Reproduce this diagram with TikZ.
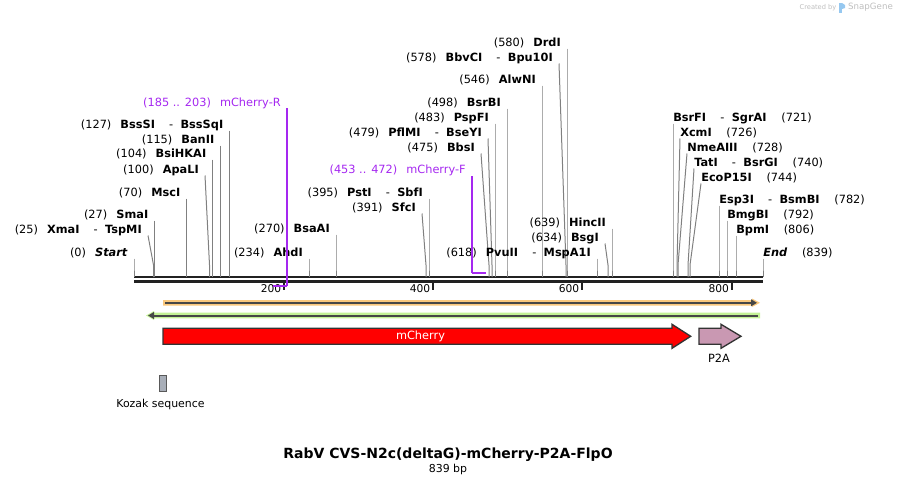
\documentclass[tikz,border=0pt]{standalone}
\usepackage{fontspec}
\setmainfont{DejaVu Sans}[ItalicFont={DejaVu Sans Oblique},BoldFont={DejaVu Sans Bold},BoldItalicFont={DejaVu Sans Bold Oblique}]
\usetikzlibrary{arrows.meta, calc}

\definecolor{cutgray}{RGB}{128,128,128}
\definecolor{primerpurple}{RGB}{165,40,240}
\definecolor{bandorange}{RGB}{250,200,125}
\definecolor{bandgreen}{RGB}{196,242,150}
\definecolor{ptwoa}{RGB}{201,152,178}
\definecolor{kozakgray}{RGB}{168,174,184}
\definecolor{markgray}{RGB}{190,190,190}
\definecolor{markblue}{RGB}{150,200,240}

% rótulos de sítios de corte
\newcommand{\lcut}[2]{(#1)\hspace{0.8em}\textbf{#2}}
\newcommand{\rcut}[2]{\textbf{#2}\hspace{1.3em}(#1)}
\newcommand{\altsep}{\hspace{1.25em}\textmd{-}\hspace{0.65em}}

\begin{document}
\begin{tikzpicture}[x=0.75pt, y=-0.75pt]

  % --- CONFIGURAÇÕES GERAIS ---
  \useasboundingbox (0,0) rectangle (897,486);
  \def\ytop{277}   % linha superior da sequência
  \def\ybend{265}  % dobra das linhas de corte

  \tikzstyle{enz}=[inner sep=0pt, font=\fontsize{8.5}{10}\selectfont]
  \tikzstyle{cut}=[draw=cutgray, line width=0.75pt]
  \tikzstyle{backbone}=[draw=black!87, line width=1.95pt]
  \tikzstyle{scaletick}=[draw=black!87, line width=1.4pt]
  \tikzstyle{feat}=[draw=black!80, line width=1pt]
  \tikzstyle{featline}=[draw=black!72, line width=1.5pt, -{Triangle[length=4.5pt,width=5pt]}]

  % --- SEQUÊNCIA (linha dupla) ---
  \coordinate (b0) at (134,\ytop);
  \coordinate (b1) at (763,\ytop);
  \coordinate (c0) at (134,281.6);
  \coordinate (c1) at (763,281.6);
  \draw[backbone] (b0) -- (b1);
  \draw[backbone] (c0) -- (c1);

  % Marcas da escala
  \foreach \v/\x in {200/284, 400/433, 600/582, 800/731.7} {
    \coordinate (m\v) at (\x,283);
    \coordinate (n\v) at (\x,290);
    \draw[scaletick] (m\v) -- (n\v);
    \node[inner sep=0pt, anchor=base east, font=\fontsize{8}{9}\selectfont] (e\v) at ({\x-2.5},292.5) {\v};
  }

  % --- SÍTIOS DE CORTE (rótulo à esquerda) ---
  \foreach \nm/\sx/\tx/\cy/\txt in {
      start/134/134/252/{\lcut{0}{\textit{Start}}},
      xmai/153.5/148/229/{\lcut{25}{XmaI\altsep TspMI}},
      smai/154.5/154.5/214/{\lcut{27}{SmaI}},
      msci/186.5/186.5/192/{\lcut{70}{MscI}},
      apali/209.5/205/169/{\lcut{100}{ApaLI}},
      bsihkai/212.5/212.5/153/{\lcut{104}{BsiHKAI}},
      banii/220.5/220.5/139/{\lcut{115}{BanII}},
      bsssi/229.5/229.5/124/{\lcut{127}{BssSI\altsep BssSqI}},
      ahdi/309/309/252/{\lcut{234}{AhdI}},
      bsaai/336/336/228/{\lcut{270}{BsaAI}},
      sfci/426/422/207/{\lcut{391}{SfcI}},
      psti/429/429/192/{\lcut{395}{PstI\altsep SbfI}},
      bbsi/489/481/147/{\lcut{475}{BbsI}},
      pflmi/492/488/132/{\lcut{479}{PflMI\altsep BseYI}},
      pspfi/495/495/117/{\lcut{483}{PspFI}},
      bsrbi/507/507/102/{\lcut{498}{BsrBI}},
      alwni/542/542/79/{\lcut{546}{AlwNI}},
      bbvci/566/559/57/{\lcut{578}{BbvCI\altsep Bpu10I}},
      drdi/567/567/42/{\lcut{580}{DrdI}},
      pvuii/597/597/252/{\lcut{618}{PvuII\altsep MspA1I}},
      bsgi/608/605/237/{\lcut{634}{BsgI}},
      hincii/612/612/222/{\lcut{639}{HincII}}} {
    \coordinate (s\nm) at (\sx,\ytop);
    \coordinate (k\nm) at (\sx,\ybend);
    \coordinate (t\nm) at (\tx,{\cy+6.5});
    \node[enz, anchor=base east] (l\nm) at ({\tx-6},{\cy+4}) {\txt};
    \draw[cut] (t\nm) -- (k\nm) -- (s\nm);
  }

  % --- SÍTIOS DE CORTE (rótulo à direita) ---
  \foreach \nm/\sx/\tx/\cy/\txt in {
      bsrfi/673/673/117/{\rcut{721}{BsrFI\altsep SgrAI}},
      xcmi/677/680/132/{\rcut{726}{XcmI}},
      nmeaiii/678/687/147/{\rcut{728}{NmeAIII}},
      tati/688/694/162/{\rcut{740}{TatI\altsep BsrGI}},
      ecop/690/701/177/{\rcut{744}{EcoP15I}},
      esp3i/719/719/199/{\rcut{782}{Esp3I\altsep BsmBI}},
      bmgbi/727/727/214/{\rcut{792}{BmgBI}},
      bpmi/736/736/229/{\rcut{806}{BpmI}},
      end/763/763/252/{\rcut{839}{\textit{End}}}} {
    \coordinate (s\nm) at (\sx,\ytop);
    \coordinate (k\nm) at (\sx,\ybend);
    \coordinate (t\nm) at (\tx,{\cy+6.5});
    \node[enz, anchor=base west] (l\nm) at (\tx,{\cy+4}) {\txt};
    \draw[cut] (t\nm) -- (k\nm) -- (s\nm);
  }

  % --- PRIMERS ---
  % mCherry-R (fita inferior)
  \node[enz, text=primerpurple, anchor=base east] (lprimR) at (281,106) {(185 .. 203)\hspace{0.8em}mCherry-R};
  \coordinate (rtop) at (287,108);
  \coordinate (rbot) at (287,286);
  \coordinate (rend) at (273,286);
  \draw[primerpurple, line width=1pt] (rtop) -- (rbot);
  \draw[primerpurple, line width=1.8pt] (rbot) -- (rend);

  % mCherry-F (fita superior)
  \node[enz, text=primerpurple, anchor=base east] (lprimF) at (466,173) {(453 .. 472)\hspace{0.8em}mCherry-F};
  \coordinate (ftop) at (472,176);
  \coordinate (fbot) at (472,273);
  \coordinate (fend) at (486,273);
  \draw[primerpurple, line width=1pt] (ftop) -- (fbot);
  \draw[primerpurple, line width=1.8pt] (fbot) -- (fend);

  % --- FEATURES ---
  % faixa laranja (direta)
  \fill[bandorange] (163,300) -- (752,300) -- (752,298.5) -- (760,302.8)
    -- (752,307) -- (752,305.7) -- (163,305.7) -- cycle;
  \coordinate (oa) at (165,302.8);
  \coordinate (ob) at (757,302.8);
  \draw[featline] (oa) -- (ob);

  % faixa verde (reversa)
  \fill[bandgreen] (146,315.5) -- (154,311) -- (154,312.7) -- (760,312.7)
    -- (760,318.3) -- (154,318.3) -- (154,320) -- cycle;
  \coordinate (ga) at (758,315.5);
  \coordinate (gb) at (148,315.5);
  \draw[featline] (ga) -- (gb);

  % mCherry
  \draw[feat, fill=red] (163,328.3) -- (672,328.3) -- (672,324.3) -- (690.7,336.3)
    -- (672,348.3) -- (672,344.3) -- (163,344.3) -- cycle;
  \node[enz, text=white, anchor=center] (mcherry) at (420.5,336) {mCherry};

  % P2A
  \draw[feat, fill=ptwoa] (699,328.3) -- (721,328.3) -- (721,324.3) -- (741,336.3)
    -- (721,348.3) -- (721,344.3) -- (699,344.3) -- cycle;
  \node[enz, anchor=center] (p2a) at (719,358) {P2A};

  % Kozak
  \draw[draw=black!65, line width=0.75pt, fill=kozakgray] (159.3,375) rectangle (166,391);
  \node[enz, anchor=center, font=\fontsize{8.2}{10}\selectfont] (kozak) at (160.5,404) {Kozak sequence};

  % --- TÍTULO ---
  \node[inner sep=0pt, font=\fontsize{10.5}{12}\selectfont\bfseries] (title) at (448,455) {RabV CVS-N2c(deltaG)-mCherry-P2A-FlpO};
  \node[inner sep=0pt, font=\fontsize{8.2}{10}\selectfont] (size) at (448,469.5) {839 bp};

  % marca d'água
  \node[inner sep=0pt, text=markgray, font=\fontsize{5}{6}\selectfont] (created) at (818,7.7) {Created by};
  \fill[markblue] (839,3) rectangle (842,13);
  \fill[markblue] (842,3) -- (845,5) -- (845,8) -- (842,9) -- cycle;
  \node[inner sep=0pt, text=markgray, font=\fontsize{6.5}{8}\selectfont] (snapgene) at (870.5,7.5) {SnapGene};

\end{tikzpicture}
\end{document}
